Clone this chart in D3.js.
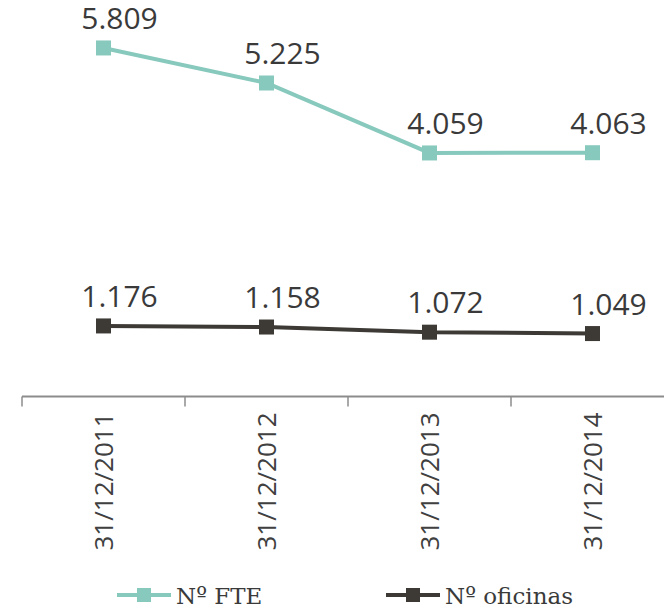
<!DOCTYPE html>
<html>
<head>
<meta charset="utf-8">
<script src="https://cdn.jsdelivr.net/npm/d3@7"></script>
<style>
  html, body { margin: 0; padding: 0; background: #fff; }
  svg { display: block; }
</style>
</head>
<body>
<svg id="chart" width="664" height="610"></svg>
<script>
// Headcount and branch network at year end
const categories = ["31/12/2011", "31/12/2012", "31/12/2013", "31/12/2014"];
const fteValues = [5809, 5225, 4059, 4063];
const officeValues = [1176, 1158, 1072, 1049];
const seriesNames = ["Nº FTE", "Nº oficinas"];
const yDomain = [0, 6600];

const series = [
  { name: seriesNames[0], values: fteValues, color: "#88c9bd" },
  { name: seriesNames[1], values: officeValues, color: "#3d3a35" }
];

const fmt = v => d3.format(",")(v).replace(/,/g, ".");

const svg = d3.select("#chart");
const W = 664, H = 610;
const plot = { left: 22, right: 674, top: 0.5, bottom: 396.5 };

const x = d3.scaleBand().domain(categories).range([plot.left, plot.right]);
const y = d3.scaleLinear().domain(yDomain).range([plot.bottom, plot.top]);
const cx = c => x(c) + x.bandwidth() / 2;

// Category axis with ticks between bands
const axisG = svg.append("g").attr("transform", `translate(0,${plot.bottom})`);
axisG.append("line")
  .attr("x1", plot.left).attr("x2", W + 10)
  .attr("stroke", "#8c8c8c").attr("stroke-width", 2);
axisG.selectAll("line.tick")
  .data(categories)
  .join("line")
  .attr("class", "tick")
  .attr("x1", d => x(d)).attr("x2", d => x(d))
  .attr("y1", 0).attr("y2", 10)
  .attr("stroke", "#8c8c8c").attr("stroke-width", 1.5);
axisG.selectAll("text")
  .data(categories)
  .join("text")
  .attr("transform", d => `translate(${cx(d) + 9},16) rotate(-90)`)
  .attr("text-anchor", "end")
  .attr("font-family", "'Open Sans', sans-serif")
  .attr("font-size", 26)
  .attr("fill", "#404040")
  .text(d => d);

// Lines, markers and value labels
const line = d3.line().x((d, i) => cx(categories[i])).y(d => y(d));
const mk = 15;

series.forEach(s => {
  const g = svg.append("g");
  g.append("path")
    .datum(s.values)
    .attr("d", line)
    .attr("fill", "none")
    .attr("stroke", s.color)
    .attr("stroke-width", 4);
  g.selectAll("rect")
    .data(s.values)
    .join("rect")
    .attr("x", (d, i) => cx(categories[i]) - mk / 2)
    .attr("y", d => y(d) - mk / 2)
    .attr("width", mk).attr("height", mk)
    .attr("fill", s.color);
  g.selectAll("text")
    .data(s.values)
    .join("text")
    .attr("x", (d, i) => cx(categories[i]) + 16)
    .attr("y", d => y(d) - 19)
    .attr("text-anchor", "middle")
    .attr("font-family", "'Open Sans', sans-serif")
    .attr("font-size", 30)
    .attr("fill", "#3a3a3a")
    .text(d => fmt(d));
});

// Legend
const legendX = [117, 386];
const legend = svg.append("g").attr("transform", "translate(0,595)");
series.forEach((s, i) => {
  const lg = legend.append("g").attr("transform", `translate(${legendX[i]},0)`);
  lg.append("line").attr("x1", 0).attr("x2", 54)
    .attr("stroke", s.color).attr("stroke-width", 4);
  lg.append("rect").attr("x", 20).attr("y", -7).attr("width", 14).attr("height", 14)
    .attr("fill", s.color);
  lg.append("text").attr("x", 59).attr("y", 9)
    .attr("font-family", "'DejaVu Serif', serif")
    .attr("font-size", 23)
    .attr("fill", "#3a3a3a")
    .text(s.name);
});
</script>
</body>
</html>
